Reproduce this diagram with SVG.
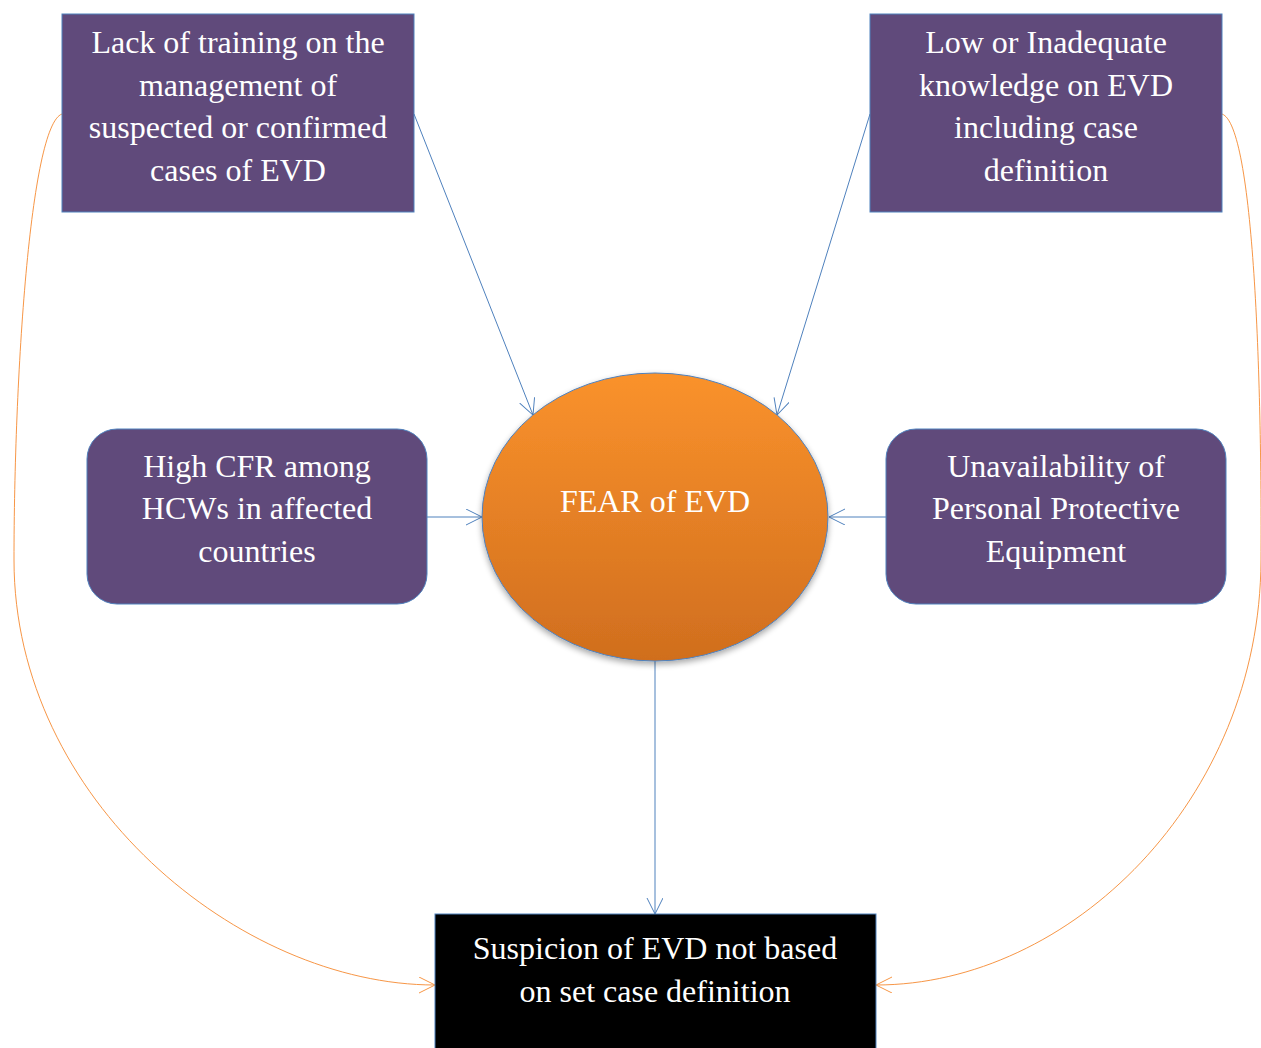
<svg xmlns="http://www.w3.org/2000/svg" width="1261" height="1048" viewBox="0 0 1261 1048">
<style>
.box{fill:#604A7B;stroke:#4F81BD;stroke-width:1}
.t{font-family:"Liberation Serif","Times New Roman",serif;font-size:32px;fill:#FFFFFF;text-anchor:middle}
.blue{fill:none;stroke:#4F81BD;stroke-width:1}
.orange{fill:none;stroke:#F79646;stroke-width:1}
</style>
<defs>
<linearGradient id="og" x1="0" y1="0" x2="0" y2="1">
<stop offset="0" stop-color="#FA922C"/>
<stop offset="1" stop-color="#D06E1E"/>
</linearGradient>
<filter id="sh" x="-10%" y="-10%" width="120%" height="125%">
<feGaussianBlur in="SourceAlpha" stdDeviation="3"/>
<feOffset dy="3"/>
<feComponentTransfer><feFuncA type="linear" slope="0.35"/></feComponentTransfer>
<feMerge><feMergeNode/><feMergeNode in="SourceGraphic"/></feMerge>
</filter>
<marker id="ab" markerWidth="18" markerHeight="18" refX="16" refY="8" orient="auto" markerUnits="userSpaceOnUse">
<path d="M0,0 L16,8 L0,16" fill="none" stroke="#4F81BD" stroke-width="1"/>
</marker>
<marker id="ao" markerWidth="18" markerHeight="18" refX="16" refY="8" orient="auto" markerUnits="userSpaceOnUse">
<path d="M0,0 L16,8 L0,16" fill="none" stroke="#F79646" stroke-width="1"/>
</marker>
</defs>
<g id="connectors">
<path class="blue" d="M414,114 L533,415" marker-end="url(#ab)"/>
<path class="blue" d="M870,114 L777,415" marker-end="url(#ab)"/>
<path class="blue" d="M427,517 L482,517" marker-end="url(#ab)"/>
<path class="blue" d="M886,517 L829,517" marker-end="url(#ab)"/>
<path class="blue" d="M655,661 L655,914" marker-end="url(#ab)"/>
<path class="orange" d="M62,114 C30,125 14,380 14,560 C14,800 240,985 435,985" marker-end="url(#ao)"/>
<path class="orange" d="M1222,114 C1254,125 1262,380 1261,560 C1260,800 1070,985 876,985" marker-end="url(#ao)"/>
</g>
<g id="node-training">
<rect class="box" x="62" y="14" width="352" height="198"/>
<text class="t" x="238" y="53">Lack of training on the</text>
<text class="t" x="238" y="96">management of</text>
<text class="t" x="238" y="138">suspected or confirmed</text>
<text class="t" x="238" y="181">cases of EVD</text>
</g>
<g id="node-knowledge">
<rect class="box" x="870" y="14" width="352" height="198"/>
<text class="t" x="1046" y="53">Low or Inadequate</text>
<text class="t" x="1046" y="96">knowledge on EVD</text>
<text class="t" x="1046" y="138">including case</text>
<text class="t" x="1046" y="181">definition</text>
</g>
<g id="node-cfr">
<rect class="box" x="87" y="429" width="340" height="175" rx="30" ry="30"/>
<text class="t" x="257" y="477">High CFR among</text>
<text class="t" x="257" y="519">HCWs in affected</text>
<text class="t" x="257" y="562">countries</text>
</g>
<g id="node-ppe">
<rect class="box" x="886" y="429" width="340" height="175" rx="30" ry="30"/>
<text class="t" x="1056" y="477">Unavailability of</text>
<text class="t" x="1056" y="519">Personal Protective</text>
<text class="t" x="1056" y="562">Equipment</text>
</g>
<g id="node-fear">
<ellipse cx="655" cy="517" rx="173" ry="144" fill="url(#og)" stroke="#4F81BD" stroke-width="1" filter="url(#sh)"/>
<text class="t" x="655" y="512">FEAR of EVD</text>
</g>
<g id="node-suspicion">
<rect x="435" y="914" width="441" height="140" fill="#000000" stroke="#4F81BD" stroke-width="1"/>
<text class="t" x="655" y="959">Suspicion of EVD not based</text>
<text class="t" x="655" y="1002">on set case definition</text>
</g>
</svg>
